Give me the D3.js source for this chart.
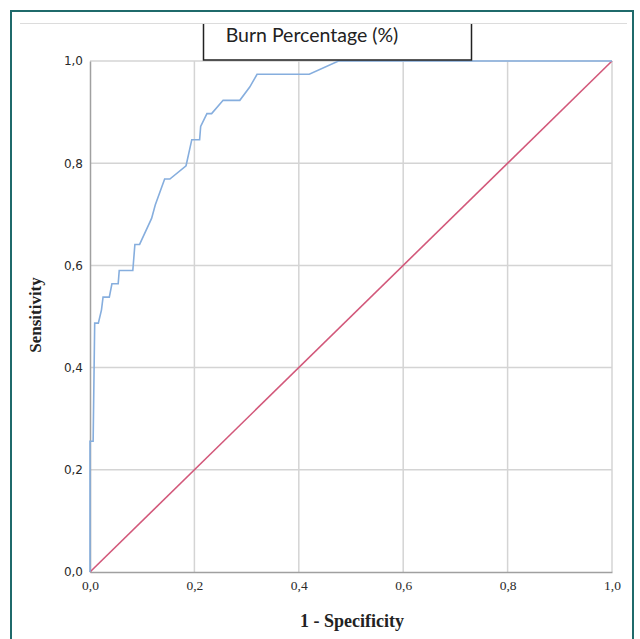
<!DOCTYPE html>
<html lang="en">
  <head>
    <meta charset="UTF-8" />
    <title>ROC Burn Percentage</title>
    <script src="https://d3js.org/d3.v7.min.js"></script>
    <style>
      body { margin: 0; background: #fff; }
    </style>
  </head>
  <body>
    <svg width="640" height="639"></svg>
    <script>
      // ROC curve (1 - specificity, sensitivity)
      var fpr = [0, 0, 0.006, 0.009, 0.016, 0.022, 0.025, 0.037, 0.042, 0.054, 0.056, 0.082,
        0.086, 0.095, 0.118, 0.125, 0.143, 0.153, 0.184, 0.195, 0.210, 0.212, 0.224, 0.233,
        0.255, 0.287, 0.306, 0.320, 0.420, 0.476, 1.0]
      var tpr = [0, 0.256, 0.256, 0.487, 0.487, 0.513, 0.538, 0.538, 0.564, 0.564, 0.590, 0.590,
        0.641, 0.641, 0.692, 0.718, 0.769, 0.769, 0.795, 0.846, 0.846, 0.872, 0.897, 0.897,
        0.923, 0.923, 0.949, 0.974, 0.974, 1.0, 1.0]
      var refLine = [0, 1]
      var ticks = [0, 0.2, 0.4, 0.6, 0.8, 1.0]
      var title = 'Burn Percentage (%)'

      var svg = d3.select('svg')
      var fmt = function(d) { return d3.format('.1f')(d).replace('.', ',') }

      // outer frame
      svg.append('path')
        .attr('d', 'M11,639 V11 H633 V639')
        .attr('fill', 'none')
        .attr('stroke', '#1f6a6b')
        .attr('stroke-width', 2)
      svg.append('line')
        .attr('x1', 20).attr('x2', 627).attr('y1', 23.5).attr('y2', 23.5)
        .attr('stroke', '#dcdcdc')

      var x = d3.scaleLinear().domain([0, 1]).range([90, 612])
      var y = d3.scaleLinear().domain([0, 1]).range([572, 61])

      // grid
      svg.append('g').selectAll('line').data(ticks.slice(1)).enter().append('line')
        .attr('x1', d => x(d)).attr('x2', d => x(d))
        .attr('y1', y(0)).attr('y2', y(1))
        .attr('stroke', '#d4d4d4').attr('stroke-width', 1.5)
      svg.append('g').selectAll('line').data(ticks.slice(1)).enter().append('line')
        .attr('x1', x(0)).attr('x2', x(1))
        .attr('y1', d => y(d)).attr('y2', d => y(d))
        .attr('stroke', '#d4d4d4').attr('stroke-width', 1.5)

      // axes
      var gx = svg.append('g').attr('transform', `translate(0,${y(0)})`)
        .call(d3.axisBottom(x).tickValues(ticks).tickFormat(fmt).tickSize(0).tickPadding(8))
      gx.select('.domain').attr('stroke', '#a0a0a0').attr('stroke-width', 1.5)
      gx.selectAll('text').attr('font-family', 'Liberation Serif').attr('font-size', 13.5).attr('fill', '#2a2a2a')

      var gy = svg.append('g').attr('transform', `translate(${x(0)},0)`)
        .call(d3.axisLeft(y).tickValues(ticks).tickFormat(fmt).tickSize(0).tickPadding(7))
      gy.select('.domain').attr('stroke', '#a0a0a0').attr('stroke-width', 1.5)
      gy.selectAll('text').attr('font-family', 'DejaVu Sans').attr('font-size', 12).attr('fill', '#2a2a2a')

      // reference diagonal
      svg.append('line')
        .attr('x1', x(refLine[0])).attr('y1', y(refLine[0]))
        .attr('x2', x(refLine[1])).attr('y2', y(refLine[1]))
        .attr('stroke', '#d2587a').attr('stroke-width', 1.6)

      // ROC curve
      var line = d3.line().x(d => x(d[0])).y(d => y(d[1]))
      svg.append('path')
        .datum(d3.zip(fpr, tpr))
        .attr('d', line)
        .attr('fill', 'none')
        .attr('stroke', '#86aede')
        .attr('stroke-width', 1.6)

      // title box
      svg.append('path')
        .attr('d', 'M203.5,24 V60 H471.5 V24')
        .attr('fill', '#fff')
        .attr('stroke', '#222')
        .attr('stroke-width', 1.5)
      svg.append('text')
        .attr('x', 312).attr('y', 41.5)
        .attr('text-anchor', 'middle')
        .attr('font-family', 'Lato')
        .attr('font-size', 19.5)
        .attr('fill', '#222')
        .text(title)

      // axis titles
      svg.append('text')
        .attr('x', 352).attr('y', 627)
        .attr('text-anchor', 'middle')
        .attr('font-family', 'Liberation Serif')
        .attr('font-weight', 'bold')
        .attr('font-size', 18)
        .attr('fill', '#222')
        .text('1 - Specificity')
      svg.append('text')
        .attr('transform', 'translate(41,315) rotate(-90)')
        .attr('text-anchor', 'middle')
        .attr('font-family', 'Liberation Serif')
        .attr('font-weight', 'bold')
        .attr('font-size', 17)
        .attr('fill', '#222')
        .text('Sensitivity')
    </script>
  </body>
</html>
